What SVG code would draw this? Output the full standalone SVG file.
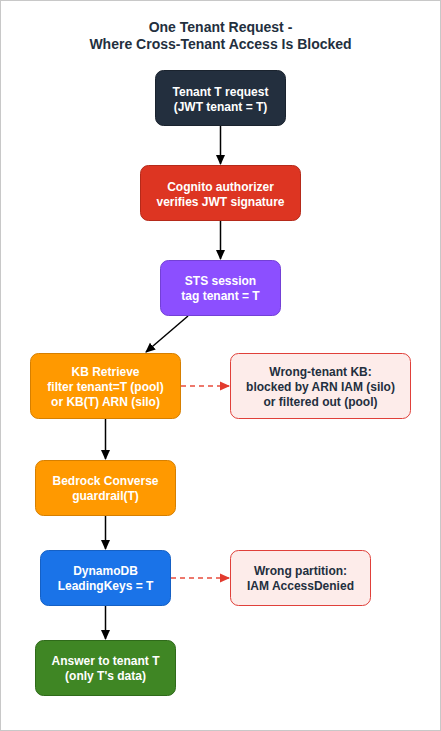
<svg xmlns="http://www.w3.org/2000/svg" width="441" height="731" viewBox="0 0 441 731">
<defs>
<marker id="ah" markerWidth="10" markerHeight="10" refX="9" refY="5" orient="auto" markerUnits="userSpaceOnUse"><path d="M0,0.5 L10,5 L0,9.5 Z" fill="#000"/></marker>
<marker id="ahr" markerWidth="10" markerHeight="10" refX="9" refY="5" orient="auto" markerUnits="userSpaceOnUse"><path d="M0,0.5 L10,5 L0,9.5 Z" fill="#e23b2e"/></marker>
</defs>
<style>
text{font-family:"Liberation Sans",Arial,Helvetica,sans-serif;font-weight:bold;text-anchor:middle}
.t{font-size:14px;fill:#232f3e}
.w{font-size:12px;fill:#ffffff}
.d{font-size:12px;fill:#232f3e}
.c{stroke:#000;stroke-width:1.5;fill:none;marker-end:url(#ah)}
.cr{stroke:#e74c3c;stroke-width:1.5;fill:none;stroke-dasharray:5,4;marker-end:url(#ahr)}
.pink{fill:#fdecea;stroke:#e0403a;stroke-width:1}
</style>
<rect x="0.5" y="0.5" width="440" height="730" fill="#ffffff" stroke="#c8c8c8"/>
<g id="title">
<text class="t" x="220.5" y="32">One Tenant Request -</text>
<text class="t" x="220.5" y="49">Where Cross-Tenant Access Is Blocked</text>
</g>
<g id="connectors">
<path class="c" d="M220.5,126 L220.5,164"/>
<path class="c" d="M220.5,221 L220.5,259"/>
<path class="c" d="M188,316 L146,352"/>
<path class="c" d="M105.5,419 L105.5,459"/>
<path class="c" d="M105.5,515 L105.5,549"/>
<path class="c" d="M105.5,605 L105.5,639"/>
<path class="cr" d="M181,386 L229,386"/>
<path class="cr" d="M171,578 L229,578"/>
</g>
<g id="n1">
<rect x="155.5" y="70.5" width="130" height="55" rx="8" fill="#232f3e" stroke="#1a232e"/>
<text class="w" x="220.5" y="95.5">Tenant T request</text>
<text class="w" x="220.5" y="110.5">(JWT tenant = T)</text>
</g>
<g id="n2">
<rect x="140.5" y="165.5" width="160" height="55" rx="8" fill="#dd3522" stroke="#b52a1a"/>
<text class="w" x="220.5" y="190.5">Cognito authorizer</text>
<text class="w" x="220.5" y="205.5">verifies JWT signature</text>
</g>
<g id="n3">
<rect x="160.5" y="260.5" width="120" height="55" rx="8" fill="#8c4fff" stroke="#7340d6"/>
<text class="w" x="220.5" y="285">STS session</text>
<text class="w" x="220.5" y="300">tag tenant = T</text>
</g>
<g id="n4">
<rect x="30.5" y="353.5" width="150" height="65" rx="8" fill="#ff9900" stroke="#d67f00"/>
<text class="w" x="105.5" y="376">KB Retrieve</text>
<text class="w" x="105.5" y="390.5">filter tenant=T (pool)</text>
<text class="w" x="105.5" y="405.5">or KB(T) ARN (silo)</text>
</g>
<g id="n5">
<rect x="230.5" y="353.5" width="180" height="65" rx="8" class="pink"/>
<text class="d" x="320.5" y="376">Wrong-tenant KB:</text>
<text class="d" x="320.5" y="390.5">blocked by ARN IAM (silo)</text>
<text class="d" x="320.5" y="405.5">or filtered out (pool)</text>
</g>
<g id="n6">
<rect x="35.5" y="460.5" width="140" height="55" rx="8" fill="#ff9900" stroke="#d67f00"/>
<text class="w" x="105.5" y="485">Bedrock Converse</text>
<text class="w" x="105.5" y="500">guardrail(T)</text>
</g>
<g id="n7">
<rect x="40.5" y="550.5" width="130" height="55" rx="8" fill="#1a73e8" stroke="#1560c4"/>
<text class="w" x="105.5" y="575">DynamoDB</text>
<text class="w" x="105.5" y="590">LeadingKeys = T</text>
</g>
<g id="n8">
<rect x="230.5" y="550.5" width="140" height="55" rx="8" class="pink"/>
<text class="d" x="300.5" y="575">Wrong partition:</text>
<text class="d" x="300.5" y="590">IAM AccessDenied</text>
</g>
<g id="n9">
<rect x="35.5" y="640.5" width="140" height="55" rx="8" fill="#3f8624" stroke="#2f6a1a"/>
<text class="w" x="105.5" y="665">Answer to tenant T</text>
<text class="w" x="105.5" y="680">(only T's data)</text>
</g>
</svg>
